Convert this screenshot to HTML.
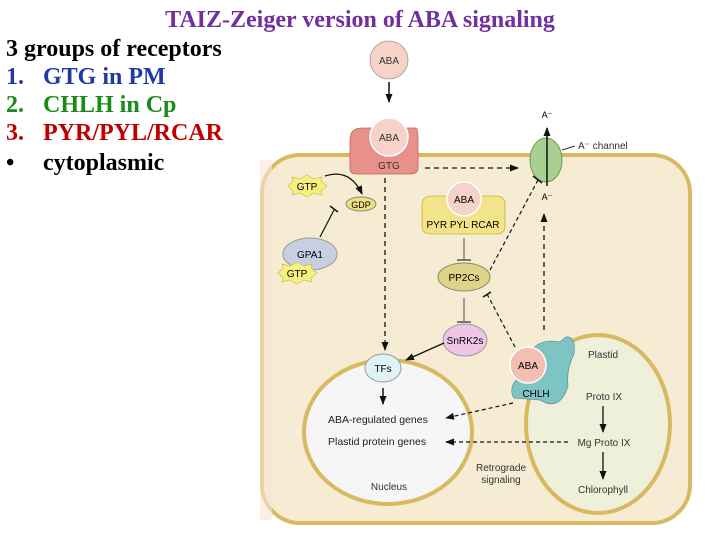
<!DOCTYPE html>
<html><head><style>
body{margin:0;width:720px;height:540px;background:#fff;overflow:hidden;position:relative;font-family:"Liberation Serif",serif}
.t{position:absolute;font-weight:bold;font-size:24px;line-height:26px;white-space:nowrap}
.t span{position:absolute;left:37px}
</style></head><body>
<svg width="720" height="540" style="position:absolute;left:0;top:0" font-family="Liberation Sans, sans-serif">
<defs>
<marker id="a" markerUnits="userSpaceOnUse" markerWidth="9" markerHeight="8" refX="8" refY="4" orient="auto"><path d="M0,0.5 L9,4 L0,7.5 z" fill="#111"/></marker>
</defs>
<rect x="262" y="155" width="428" height="368" rx="38" fill="#f6ecd4" stroke="#d8b860" stroke-width="4"/>
<rect x="260" y="160" width="12" height="360" fill="#f8e4d8" opacity="0.6"/>
<ellipse cx="388" cy="432" rx="84" ry="72" fill="#f6f6f9" stroke="#d8b860" stroke-width="4"/>
<ellipse cx="598" cy="424" rx="72" ry="89" fill="#eef0da" stroke="#d8b860" stroke-width="4"/>
<circle cx="389" cy="60" r="19" fill="#f6d2c8" stroke="#999" stroke-width="0.8"/>
<text x="389" y="64" font-size="10" text-anchor="middle" fill="#333">ABA</text>
<line x1="389" y1="82" x2="389" y2="102" stroke="#111" stroke-width="1.5" marker-end="url(#a)"/>
<path d="M350,140 Q350,128 362,128 L416,128 Q418,128 418,140 L418,168 Q418,174 410,174 L356,174 Q350,174 350,168 Z" fill="#e8908a" stroke="#c06060" stroke-width="0.8"/>
<circle cx="389" cy="137" r="19" fill="#f6d2c8" stroke="#fff" stroke-width="1.5"/>
<text x="389" y="141" font-size="10" text-anchor="middle" fill="#333">ABA</text>
<text x="389" y="169" font-size="10" text-anchor="middle" fill="#333">GTG</text>
<ellipse cx="546" cy="160" rx="16" ry="22" fill="#a8d090" stroke="#6a9a50"/>
<line x1="547" y1="186" x2="547" y2="128" stroke="#111" stroke-width="1.5" marker-end="url(#a)"/>
<text x="547" y="118" font-size="9" text-anchor="middle">A⁻</text>
<text x="547" y="200" font-size="9" text-anchor="middle">A⁻</text>
<line x1="562" y1="150" x2="575" y2="146" stroke="#333"/>
<text x="578" y="149" font-size="10" fill="#333">A⁻ channel</text>
<line x1="425" y1="168" x2="518" y2="168" stroke="#111" stroke-width="1.3" stroke-dasharray="5,4" marker-end="url(#a)"/>
<polygon points="288,186 293,181 292,177 300,179 307,175 314,179 322,177 321,181 327,186 321,191 322,195 314,193 307,197 300,193 292,195 293,191" fill="#f6f080" stroke="#c8c040" stroke-width="0.7"/>
<text x="307" y="190" font-size="10" text-anchor="middle">GTP</text>
<path d="M325,176 Q350,168 362,194" fill="none" stroke="#111" stroke-width="1.3" marker-end="url(#a)"/>
<ellipse cx="361" cy="204" rx="15" ry="7" fill="#eee080" stroke="#887"/>
<text x="361" y="208" font-size="9" text-anchor="middle">GDP</text>
<line x1="320" y1="237" x2="334" y2="210" stroke="#111" stroke-width="1.2"/>
<line x1="330" y1="206" x2="338" y2="212" stroke="#111" stroke-width="1.5"/>
<ellipse cx="310" cy="254" rx="27" ry="16" fill="#c6d0e2" stroke="#999"/>
<text x="310" y="258" font-size="10" text-anchor="middle">GPA1</text>
<polygon points="278,273 283,268 282,264 290,266 297,262 304,266 312,264 311,268 317,273 311,278 312,282 304,280 297,284 290,280 282,282 283,278" fill="#f6f080" stroke="#c8c040" stroke-width="0.7"/>
<text x="297" y="277" font-size="10" text-anchor="middle">GTP</text>
<line x1="385" y1="178" x2="385" y2="350" stroke="#111" stroke-width="1.3" stroke-dasharray="5,4" marker-end="url(#a)"/>
<path d="M422,205 Q422,196 432,196 L496,196 Q505,196 505,205 L505,226 Q505,234 496,234 L432,234 Q422,234 422,226 Z" fill="#f3e48a" stroke="#c8b040" stroke-width="0.8"/>
<circle cx="464" cy="199" r="17" fill="#f6d2c8" stroke="#fff" stroke-width="1.5"/>
<text x="464" y="203" font-size="10" text-anchor="middle">ABA</text>
<text x="463" y="228" font-size="10" text-anchor="middle">PYR PYL RCAR</text>
<line x1="464" y1="238" x2="464" y2="260" stroke="#555" stroke-width="1"/>
<line x1="457" y1="260" x2="471" y2="260" stroke="#555" stroke-width="1.5"/>
<ellipse cx="464" cy="277" rx="26" ry="14" fill="#ddd488" stroke="#887"/>
<text x="464" y="281" font-size="10" text-anchor="middle">PP2Cs</text>
<line x1="490" y1="270" x2="538" y2="180" stroke="#111" stroke-width="1.2" stroke-dasharray="4,3"/>
<line x1="533" y1="176" x2="542" y2="183" stroke="#111" stroke-width="1.5"/>
<line x1="544" y1="330" x2="544" y2="214" stroke="#111" stroke-width="1.3" stroke-dasharray="5,4" marker-end="url(#a)"/>
<line x1="464" y1="298" x2="464" y2="322" stroke="#555"/>
<line x1="457" y1="322" x2="471" y2="322" stroke="#555" stroke-width="1.5"/>
<line x1="515" y1="347" x2="487" y2="294" stroke="#111" stroke-width="1.2" stroke-dasharray="4,3"/>
<line x1="483" y1="297" x2="491" y2="292" stroke="#111" stroke-width="1.5"/>
<ellipse cx="465" cy="340" rx="22" ry="16" fill="#efc6e6" stroke="#999"/>
<text x="465" y="344" font-size="10" text-anchor="middle">SnRK2s</text>
<line x1="444" y1="343" x2="406" y2="360" stroke="#111" stroke-width="1.3" marker-end="url(#a)"/>
<ellipse cx="383" cy="368" rx="18" ry="14" fill="#dff3f6" stroke="#999"/>
<text x="383" y="372" font-size="10" text-anchor="middle">TFs</text>
<line x1="383" y1="388" x2="383" y2="404" stroke="#111" stroke-width="1.5" marker-end="url(#a)"/>
<path d="M530,352 Q540,338 560,342 L566,337 Q576,336 574,354 Q566,370 568,386 Q560,412 540,400 L514,398 Q508,388 518,378 Z" fill="#7fc4c4" stroke="#5a9a9a" stroke-width="0.8"/>
<circle cx="528" cy="365" r="18" fill="#f3bfb2" stroke="#fff" stroke-width="1.5"/>
<text x="528" y="369" font-size="10" text-anchor="middle">ABA</text>
<text x="536" y="397" font-size="10" text-anchor="middle">CHLH</text>
<line x1="513" y1="403" x2="446" y2="418" stroke="#111" stroke-width="1.2" stroke-dasharray="4,3" marker-end="url(#a)"/>
<line x1="568" y1="442" x2="446" y2="442" stroke="#111" stroke-width="1.2" stroke-dasharray="4,3" marker-end="url(#a)"/>
<text x="328" y="423" font-size="10.5" fill="#222">ABA-regulated genes</text>
<text x="328" y="445" font-size="10.5" fill="#222">Plastid protein genes</text>
<text x="389" y="490" font-size="10" text-anchor="middle" fill="#333">Nucleus</text>
<text x="501" y="471" font-size="10" text-anchor="middle" fill="#333">Retrograde</text>
<text x="501" y="483" font-size="10" text-anchor="middle" fill="#333">signaling</text>
<text x="603" y="358" font-size="10" text-anchor="middle" fill="#333">Plastid</text>
<text x="604" y="400" font-size="10" text-anchor="middle" fill="#333">Proto IX</text>
<line x1="603" y1="406" x2="603" y2="432" stroke="#111" stroke-width="1.3" marker-end="url(#a)"/>
<text x="604" y="446" font-size="10" text-anchor="middle" fill="#333">Mg Proto IX</text>
<line x1="603" y1="452" x2="603" y2="479" stroke="#111" stroke-width="1.3" marker-end="url(#a)"/>
<text x="603" y="493" font-size="10" text-anchor="middle" fill="#333">Chlorophyll</text>
</svg>
<div class="t" style="left:0;width:720px;text-align:center;top:7px;color:#7030a0">TAIZ-Zeiger version of ABA signaling</div>
<div class="t" style="left:6px;top:36px;color:#000">3 groups of receptors</div>
<div class="t" style="left:6px;top:64px;color:#1f3aa8">1.<span>GTG in PM</span></div>
<div class="t" style="left:6px;top:92px;color:#1a8a1a">2.<span>CHLH in Cp</span></div>
<div class="t" style="left:6px;top:120px;color:#c00000">3.<span>PYR/PYL/RCAR</span></div>
<div class="t" style="left:6px;top:150px;color:#000">•<span>cytoplasmic</span></div>
</body></html>
